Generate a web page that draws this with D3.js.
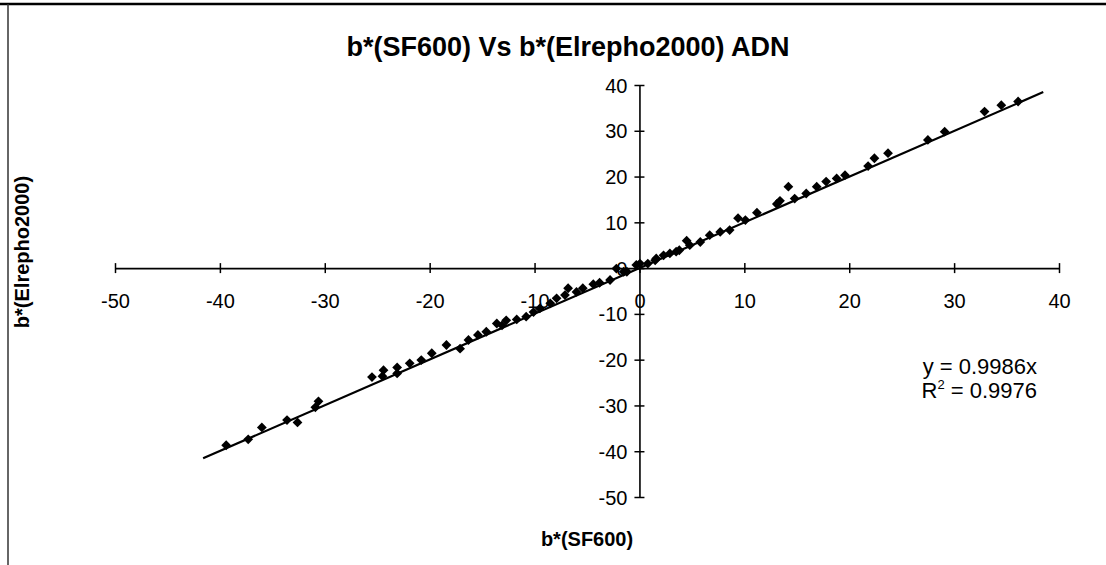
<!DOCTYPE html>
<html>
<head>
<meta charset="utf-8">
<script src="https://cdn.jsdelivr.net/npm/d3@7"></script>
<style>
  html, body { margin: 0; padding: 0; background: #fff; }
  svg { display: block; }
  text { font-family: "Liberation Sans", Arial, sans-serif; fill: #000; }
</style>
</head>
<body>
<svg id="chart" width="1106" height="565"></svg>
<script>
// ---- data ----
const title = "b*(SF600) Vs b*(Elrepho2000) ADN";
const xTitle = "b*(SF600)";
const yTitle = "b*(Elrepho2000)";
const xTicks = [-50, -40, -30, -20, -10, 0, 10, 20, 30, 40];
const yTicks = [-50, -40, -30, -20, -10, 0, 10, 20, 30, 40];
const sf600 = [
  -39.4, -37.3, -36.0, -33.6, -32.6, -30.6, -30.9, -25.5, -24.5, -23.1,
  -24.4, -23.1, -21.9, -20.8, -19.8, -18.4, -17.1, -16.3, -15.4, -14.6,
  -13.6, -13.1, -12.7, -11.7, -10.8, -10.1, -9.5, -8.5, -7.9, -7.1,
  -6.8, -6.0, -5.4, -4.4, -3.8, -2.8, -2.2, -1.2, -0.3, 0.8,
  1.6, 2.9, 3.8, 4.8, 5.8, -1.5, 0.05, 1.5, 2.3, 3.5,
  4.5, 6.7, 7.7, 8.6, 9.4, 10.1, 11.2, 13.1, 13.4, 14.2,
  14.8, 15.9, 16.9, 17.8, 18.8, 19.6, 21.8, 22.4, 23.7, 27.5,
  29.1, 32.9, 34.5, 36.1
];
const elrepho = [
  -38.7, -37.4, -34.8, -33.2, -33.7, -29.1, -30.4, -23.8, -23.6, -23.0,
  -22.3, -21.7, -20.8, -20.1, -18.6, -16.8, -17.6, -15.7, -14.6, -13.9,
  -12.1, -12.5, -11.4, -11.2, -10.6, -9.6, -8.8, -7.7, -6.6, -5.9,
  -4.4, -5.2, -4.4, -3.5, -3.2, -2.6, -0.1, -0.8, 0.7, 1.0,
  2.1, 3.2, 3.9, 5.0, 5.7, -0.8, 1.0, 1.7, 2.8, 3.6,
  6.0, 7.2, 7.9, 8.3, 10.9, 10.5, 12.1, 14.0, 14.7, 17.8,
  15.2, 16.3, 17.8, 18.9, 19.6, 20.3, 22.3, 24.0, 25.1, 28.0,
  29.8, 34.2, 35.6, 36.4
];
const trendSlope = 0.9986;
const trendRange = [-41.6, 38.5];
const equationLines = ["y = 0.9986x", "R", "2", " = 0.9976"];

// ---- layout ----
const svg = d3.select("#chart");
const x = d3.scaleLinear().domain([-50, 40]).range([115, 1059]);
const y = d3.scaleLinear().domain([-50, 40]).range([497, 85]);

// frame (top and left edges visible in the scan)
svg.append("line").attr("x1", 0).attr("x2", 1106).attr("y1", 4).attr("y2", 4)
  .attr("stroke", "#000").attr("stroke-width", 2.5);
svg.append("line").attr("x1", 8).attr("x2", 8).attr("y1", 4).attr("y2", 565)
  .attr("stroke", "#333").attr("stroke-width", 1.5);

const fmt = d => String(d);

// x axis (crossing at y = 0)
const xAxis = d3.axisBottom(x).tickValues(xTicks).tickFormat(fmt).tickSize(0).tickPadding(0);
const gx = svg.append("g").attr("transform", `translate(0,${y(0)})`).call(xAxis);
gx.select(".domain").attr("stroke", "#000").attr("stroke-width", 1.6);
gx.selectAll(".tick line").attr("y1", -5).attr("y2", 5).attr("stroke", "#000").attr("stroke-width", 1.5);
gx.selectAll(".tick text").attr("y", 33).attr("dy", "0.35em")
  .attr("font-size", 20).attr("font-family", "Liberation Sans, Arial, sans-serif");

// y axis (crossing at x = 0)
const yAxis = d3.axisLeft(y).tickValues(yTicks).tickFormat(fmt).tickSize(0).tickPadding(0);
const gy = svg.append("g").attr("transform", `translate(${x(0)},0)`).call(yAxis);
gy.select(".domain").attr("stroke", "#000").attr("stroke-width", 1.6);
gy.selectAll(".tick line").attr("x1", -5).attr("x2", 5).attr("stroke", "#000").attr("stroke-width", 1.5);
gy.selectAll(".tick text").attr("x", -12).attr("dy", "0.35em")
  .attr("font-size", 20).attr("font-family", "Liberation Sans, Arial, sans-serif");

// trendline
svg.append("line")
  .attr("x1", x(trendRange[0])).attr("y1", y(trendSlope * trendRange[0]))
  .attr("x2", x(trendRange[1])).attr("y2", y(trendSlope * trendRange[1]))
  .attr("stroke", "#000").attr("stroke-width", 2.2);

// points
const pts = sf600.map((v, i) => ({ x: v, y: elrepho[i] }));
const diamond = d3.symbol().type(d3.symbolSquare).size(48);
svg.append("g").selectAll("path").data(pts).join("path")
  .attr("d", diamond)
  .attr("transform", d => `translate(${x(d.x)},${y(d.y)}) rotate(45)`)
  .attr("fill", "#000");

// title
svg.append("text").attr("x", 568).attr("y", 56).attr("text-anchor", "middle")
  .attr("font-size", 27).attr("font-weight", "bold").text(title);

// axis titles (centred on the plot area)
svg.append("text").attr("x", (x.range()[0] + x.range()[1]) / 2).attr("y", 546).attr("text-anchor", "middle")
  .attr("font-size", 20).attr("font-weight", "bold").text(xTitle);
svg.append("text").attr("transform", "translate(29,252) rotate(-90)").attr("text-anchor", "middle")
  .attr("font-size", 20).attr("font-weight", "bold").text(yTitle);

// equation
svg.append("text").attr("x", 1037).attr("y", 374).attr("text-anchor", "end")
  .attr("font-size", 22).text(equationLines[0]);
const r2 = svg.append("text").attr("x", 1037).attr("y", 398).attr("text-anchor", "end")
  .attr("font-size", 22);
r2.append("tspan").text(equationLines[1]);
r2.append("tspan").attr("font-size", 13).attr("dy", -9).text(equationLines[2]);
r2.append("tspan").attr("dy", 9).text(equationLines[3]);
</script>
</body>
</html>
